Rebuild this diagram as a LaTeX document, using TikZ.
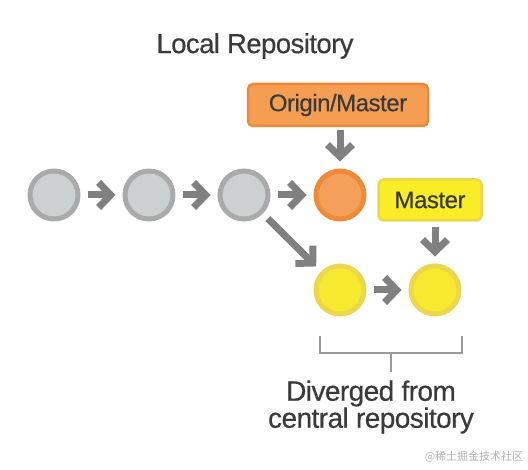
\documentclass[tikz,border=0pt]{standalone}
\usepackage{fontspec}
\setmainfont{Liberation Sans}[FakeBold=0.4,LetterSpace=-2]
\newfontfamily\cjk{Noto Sans CJK SC}
\usetikzlibrary{arrows.meta}
\definecolor{cgrayfill}{HTML}{CDD0D1}
\definecolor{cgrayline}{HTML}{A9AAAA}
\definecolor{corfill}{HTML}{F4A05A}
\definecolor{corline}{HTML}{EE8A3A}
\definecolor{cyefill}{HTML}{F7EA2E}
\definecolor{cyeline}{HTML}{EBD64C}
\definecolor{carrow}{HTML}{808080}
\definecolor{ctext}{HTML}{3A3A3A}
\definecolor{cbracket}{HTML}{9A9A9A}
\tikzset{
  commit/.style={circle, minimum size=48pt, inner sep=0pt, line width=5pt},
  graycommit/.style={commit, draw=cgrayline, fill=cgrayfill},
  orangecommit/.style={commit, draw=corline, fill=corfill},
  yellowcommit/.style={commit, draw=cyeline, fill=cyefill},
  flow/.style={draw=carrow, line width=7pt, -{Straight Barb[length=12pt,width=25pt]}},
  label/.style={rounded corners=5pt, line width=2.5pt, inner sep=0pt, text=ctext, font=\fontsize{24}{26}\selectfont},
  brk/.style={draw=cbracket, line width=2pt},
}
\begin{document}
\begin{tikzpicture}[x=1pt,y=-1pt]
\path[use as bounding box, fill=white] (0,0) rectangle (528,470);
\node[text=ctext, font=\fontsize{27.5}{30}\selectfont] (title) at (255,46) {Local Repository};
\node[graycommit] (g1) at (54,195) {};
\node[graycommit] (g2) at (149,195) {};
\node[graycommit] (g3) at (244,195) {};
\node[orangecommit] (o1) at (340,195) {};
\node[yellowcommit] (y1) at (340,290) {};
\node[yellowcommit] (y2) at (435,290) {};
\node[label, draw=corline, fill=corfill!90!orange, minimum width=180pt, minimum height=42pt] (om) at (338,105) {Origin/Master};
\node[label, draw=cyeline, fill=cyefill!85!yellow, minimum width=103pt, minimum height=41pt] (ma) at (430,200) {Master};
\draw[flow, shorten <=7pt, shorten >=7pt] (g1) -- (g2);
\draw[flow, shorten <=7pt, shorten >=7pt] (g2) -- (g3);
\draw[flow, shorten <=7pt, shorten >=7pt] (g3) -- (o1);
\draw[flow, shorten <=7pt, shorten >=7pt] (g3) -- (y1);
\draw[flow, shorten <=7pt, shorten >=7pt] (y1) -- (y2);
\draw[flow, shorten <=3pt, shorten >=7pt] (om.south -| o1) -- (o1);
\draw[flow, shorten <=5pt, shorten >=7pt] (ma.south -| y2) -- (y2);
\coordinate (bl) at (320,336);
\coordinate (br) at (462,336);
\coordinate (bm) at (391,353);
\coordinate (bt) at (391,372);
\draw[brk] (bl) |- (bm) -| (br);
\draw[brk] (bm) -- (bt);
\node[text=ctext, align=center, font=\fontsize{28}{27}\selectfont] (div) at (371,407) {Diverged from\\central repository};
\node[text=black!30, font=\cjk\fontsize{11}{13}\selectfont] (wm) at (474,457) {@稀土掘金技术社区};
\end{tikzpicture}
\end{document}
